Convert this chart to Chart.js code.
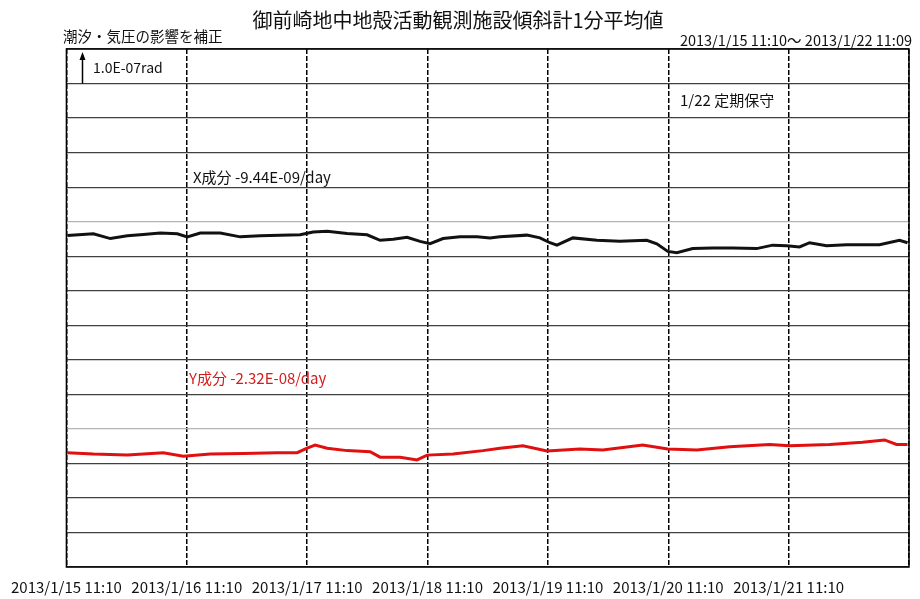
<!DOCTYPE html>
<html><head><meta charset="utf-8">
<script src="https://cdn.jsdelivr.net/npm/chart.js@4.4.1/dist/chart.umd.min.js"></script>
<style>html,body{margin:0;padding:0;background:#fff}canvas{display:block}</style>
</head><body>
<canvas id="c" width="920" height="599"></canvas>
<script>
// Tick labels (one per day gridline)
const dayLabels = ['2013/1/15 11:10','2013/1/16 11:10','2013/1/17 11:10','2013/1/18 11:10','2013/1/19 11:10','2013/1/20 11:10','2013/1/21 11:10'];
// X component: elapsed days, value in grid units (1 grid = 1.0E-07 rad)
const xDays = [0.008,0.224,0.365,0.506,0.639,0.780,0.921,1.004,1.112,1.278,1.444,1.610,1.776,1.942,2.050,2.166,2.332,2.498,2.606,2.714,2.830,2.938,3.021,3.129,3.270,3.411,3.519,3.602,3.826,3.934,4.017,4.075,4.207,4.407,4.598,4.822,4.905,4.996,5.071,5.203,5.369,5.535,5.734,5.867,5.983,6.091,6.174,6.315,6.481,6.614,6.755,6.921,6.988];
const xValues = [9.60,9.65,9.51,9.59,9.63,9.67,9.65,9.56,9.67,9.67,9.56,9.59,9.61,9.62,9.70,9.72,9.66,9.62,9.46,9.49,9.55,9.43,9.36,9.51,9.56,9.56,9.53,9.56,9.61,9.53,9.39,9.32,9.53,9.46,9.43,9.46,9.36,9.14,9.10,9.22,9.24,9.24,9.22,9.32,9.30,9.27,9.39,9.30,9.33,9.33,9.33,9.46,9.39];
// Y component
const yDays = [0.008,0.224,0.506,0.805,0.971,1.195,1.469,1.751,1.917,2.000,2.066,2.166,2.332,2.523,2.606,2.772,2.913,2.996,3.212,3.461,3.602,3.793,3.992,4.266,4.456,4.788,4.996,5.237,5.510,5.842,6.008,6.340,6.614,6.797,6.896,6.988];
const yValues = [3.31,3.27,3.24,3.31,3.21,3.27,3.29,3.31,3.31,3.44,3.53,3.44,3.37,3.34,3.18,3.18,3.10,3.24,3.27,3.37,3.44,3.51,3.36,3.42,3.39,3.53,3.42,3.39,3.48,3.55,3.51,3.55,3.61,3.68,3.55,3.55];

const titleText = '御前崎地中地殻活動観測施設傾斜計1分平均値';
const noteText = '潮汐・気圧の影響を補正';
const rangeText = '2013/1/15 11:10～ 2013/1/22 11:09';
const scaleText = '1.0E-07rad';
const maintText = '1/22 定期保守';
const xLabel = 'X成分 -9.44E-09/day';
const yLabel = 'Y成分 -2.32E-08/day';

const FONT = '"Noto Sans CJK JP", "Noto Sans", sans-serif';

const toPts = (d, v) => d.map((x, i) => ({x, y: v[i]}));

const deco = {
  id: 'deco',
  afterDraw(chart) {
    const ctx = chart.ctx, a = chart.chartArea;
    ctx.save();
    // frame
    ctx.strokeStyle = '#000'; ctx.lineWidth = 1.5; ctx.setLineDash([]);
    ctx.strokeRect(a.left, a.top, a.right - a.left, a.bottom - a.top);
    // texts
    ctx.fillStyle = '#111'; ctx.textBaseline = 'middle';
    ctx.font = '20px ' + FONT; ctx.textAlign = 'center';
    ctx.fillText(titleText, 458, 20);
    ctx.textAlign = 'left'; ctx.font = '14.5px ' + FONT;
    ctx.fillText(noteText, 63, 36);
    ctx.textAlign = 'right';
    ctx.fillText(rangeText, 912, 40);
    ctx.textAlign = 'left';
    ctx.font = '14px ' + FONT;
    ctx.fillText(scaleText, 93, 68);
    ctx.font = '15px ' + FONT;
    ctx.fillText(maintText, 680, 100);
    ctx.fillText(xLabel, 193, 177);
    ctx.fillStyle = '#d41c1c';
    ctx.fillText(yLabel, 189, 378);
    // scale arrow
    ctx.strokeStyle = '#000'; ctx.fillStyle = '#000'; ctx.lineWidth = 1.5;
    const ys = chart.scales.y;
    const yb = ys.getPixelForValue(14), yt = ys.getPixelForValue(15) + 3;
    ctx.beginPath(); ctx.moveTo(82.5, yb); ctx.lineTo(82.5, yt + 6); ctx.stroke();
    ctx.beginPath(); ctx.moveTo(82.5, yt); ctx.lineTo(79.5, yt + 8); ctx.lineTo(85.5, yt + 8); ctx.closePath(); ctx.fill();
    ctx.restore();
  }
};

new Chart(document.getElementById('c'), {
  type: 'line',
  data: {
    datasets: [
      {label: 'X', data: toPts(xDays, xValues), borderColor: '#111', borderWidth: 3, pointRadius: 0, tension: 0},
      {label: 'Y', data: toPts(yDays, yValues), borderColor: '#e01010', borderWidth: 3, pointRadius: 0, tension: 0}
    ]
  },
  options: {
    responsive: false, animation: false, devicePixelRatio: 1,
    layout: {padding: {left: 66, right: 10, top: 49, bottom: 0}},
    plugins: {legend: {display: false}, tooltip: {enabled: false}},
    scales: {
      x: {
        type: 'linear', min: 0, max: 7,
        afterFit: s => { s.height = 32; },
        ticks: {stepSize: 1, autoSkip: false, maxRotation: 0, padding: 11, color: '#111',
          font: {family: FONT, size: 15}, callback: v => dayLabels[v] ?? ''},
        grid: {color: '#000', lineWidth: 1.5, drawTicks: false},
        border: {display: false, dash: [5, 2]}
      },
      y: {
        min: 0, max: 15,
        ticks: {stepSize: 1, display: false},
        grid: {drawTicks: false, lineWidth: 1.2,
          color: c => (c.tick && (c.tick.value === 4 || c.tick.value === 10)) ? '#b4b4b4' : '#404040'},
        border: {display: false}
      }
    }
  },
  plugins: [deco]
});
</script>
</body></html>
